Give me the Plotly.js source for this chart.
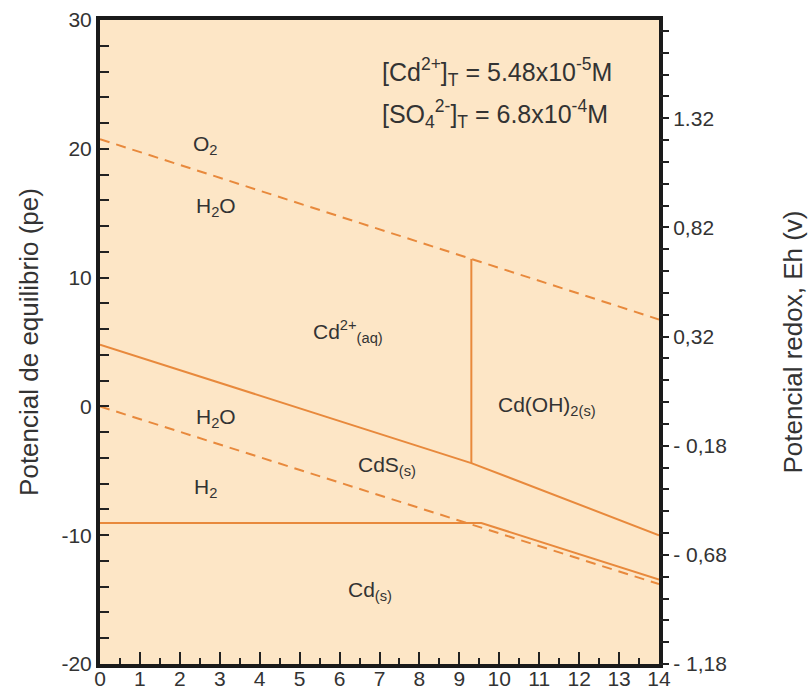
<!DOCTYPE html>
<html>
<head>
<meta charset="utf-8">
<script src="https://cdn.plot.ly/plotly-3.0.1.min.js"></script>
<style>html,body{margin:0;padding:0;background:#fff;}#chart{width:808px;height:689px;}</style>
</head>
<body>
<div id="chart"></div>
<script>
// Boundary lines (pH, pe)
const o2H2O_pH = [0, 14];
const o2H2O_pe = [20.75, 6.75];
const h2oH2_pH = [0, 14];
const h2oH2_pe = [0, -13.8];
const cdAqCdS_pH = [0, 9.3, 14];
const cdAqCdS_pe = [4.8, -4.4, -10];
const cdAqOH_pH = [9.3, 9.3];
const cdAqOH_pe = [-4.4, 11.45];
const cdsCd_pH = [0, 9.55, 14];
const cdsCd_pe = [-9.05, -9.05, -13.45];

// Left axis labels (pe)
const peTickVals = [-20, -10, 0, 10, 20, 30];
const peTickText = ['-20', '-10', '0', '10', '20', '30'];
// Right axis labels (Eh, V)
const ehTickVals = [1.32, 0.82, 0.32, -0.18, -0.68, -1.18];
const ehTickText = ['1.32', '0,82', '0,32', '- 0,18', '- 0,68', '- 1,18'];

const lineColor = '#E8893C';
const txt = '#333333';
const font = 'Liberation Sans';

const traces = [
  {x: o2H2O_pH, y: o2H2O_pe, mode: 'lines', line: {color: lineColor, width: 2, dash: '10px,7px'}},
  {x: h2oH2_pH, y: h2oH2_pe, mode: 'lines', line: {color: lineColor, width: 2, dash: '10px,7px'}},
  {x: cdAqCdS_pH, y: cdAqCdS_pe, mode: 'lines', line: {color: lineColor, width: 2}},
  {x: cdAqOH_pH, y: cdAqOH_pe, mode: 'lines', line: {color: lineColor, width: 2}},
  {x: cdsCd_pH, y: cdsCd_pe, mode: 'lines', line: {color: lineColor, width: 2}},
  {x: [0], y: [0], yaxis: 'y2', mode: 'markers', marker: {opacity: 0}, hoverinfo: 'skip'}
];

function ann(x, y, text, size) {
  return {x: x, y: y, xref: 'x', yref: 'y', text: text, showarrow: false,
          font: {family: font, size: size || 21, color: txt}};
}

const layout = {
  width: 808, height: 689,
  margin: {l: 100, r: 149, t: 20, b: 25},
  paper_bgcolor: '#ffffff',
  plot_bgcolor: '#FDE6C6',
  showlegend: false,
  font: {family: font, color: txt, size: 21},
  xaxis: {
    range: [0, 14], dtick: 1, tick0: 0,
    ticks: 'inside', ticklen: 12, tickwidth: 2, tickcolor: '#222',
    minor: {dtick: 0.5, tick0: 0, ticks: 'inside', ticklen: 6, tickwidth: 2, tickcolor: '#222'},
    showline: true, linewidth: 4, linecolor: '#1a1a1a', mirror: true,
    showgrid: false, zeroline: false,
    ticklabelstandoff: -7,
    tickfont: {family: font, size: 21, color: txt}
  },
  yaxis: {
    range: [-20, 30],
    tickmode: 'array', tickvals: peTickVals, ticktext: peTickText,
    ticks: 'inside', ticklen: 9, tickwidth: 2, tickcolor: '#222',
    minor: {dtick: 2, tick0: 0, ticks: 'inside', ticklen: 9, tickwidth: 2, tickcolor: '#222'},
    showline: true, linewidth: 4, linecolor: '#1a1a1a', mirror: true,
    showgrid: false, zeroline: false,
    tickfont: {family: font, size: 21, color: txt},
    title: {text: 'Potencial de equilibrio (pe)', font: {family: font, size: 26, color: txt}, standoff: 16}
  },
  yaxis2: {
    overlaying: 'y', side: 'right',
    range: [-1.18, 1.77],
    tickmode: 'array', tickvals: ehTickVals, ticktext: ehTickText,
    ticks: 'outside', ticklen: 9, tickwidth: 2, tickcolor: '#222',
    minor: {tick0: -1.18, dtick: 0.1, ticks: 'outside', ticklen: 9, tickwidth: 2, tickcolor: '#222'},
    showline: false, showgrid: false, zeroline: false,
    tickfont: {family: font, size: 21, color: txt},
    title: {text: 'Potencial redox, Eh (v)', font: {family: font, size: 26, color: txt}, standoff: 58}
  },
  annotations: [
    {xref: 'paper', yref: 'paper', x: 0.5, y: 0.95, xanchor: 'left', showarrow: false,
     text: '[Cd<sup>2+</sup>]<sub>T</sub> = 5.48x10<sup>-5</sup>M', font: {family: font, size: 25, color: txt}},
    {xref: 'paper', yref: 'paper', x: 0.5, y: 0.885, xanchor: 'left', showarrow: false,
     text: '[SO<sub>4</sub><sup>2-</sup>]<sub>T</sub> = 6.8x10<sup>-4</sup>M', font: {family: font, size: 25, color: txt}},
    ann(2.65, 20.3, 'O<sub>2</sub>'),
    ann(2.9, 15.5, 'H<sub>2</sub>O'),
    ann(6.2, 5.8, 'Cd<sup>2+</sup><sub>(aq)</sub>'),
    ann(2.9, -0.9, 'H<sub>2</sub>O'),
    ann(7.2, -4.6, 'CdS<sub>(s)</sub>'),
    ann(2.65, -6.3, 'H<sub>2</sub>'),
    ann(11.2, 0.0, 'Cd(OH)<sub>2(s)</sub>'),
    ann(6.75, -14.3, 'Cd<sub>(s)</sub>')
  ]
};

Plotly.newPlot('chart', traces, layout, {displayModeBar: false, staticPlot: true});
</script>
</body>
</html>
